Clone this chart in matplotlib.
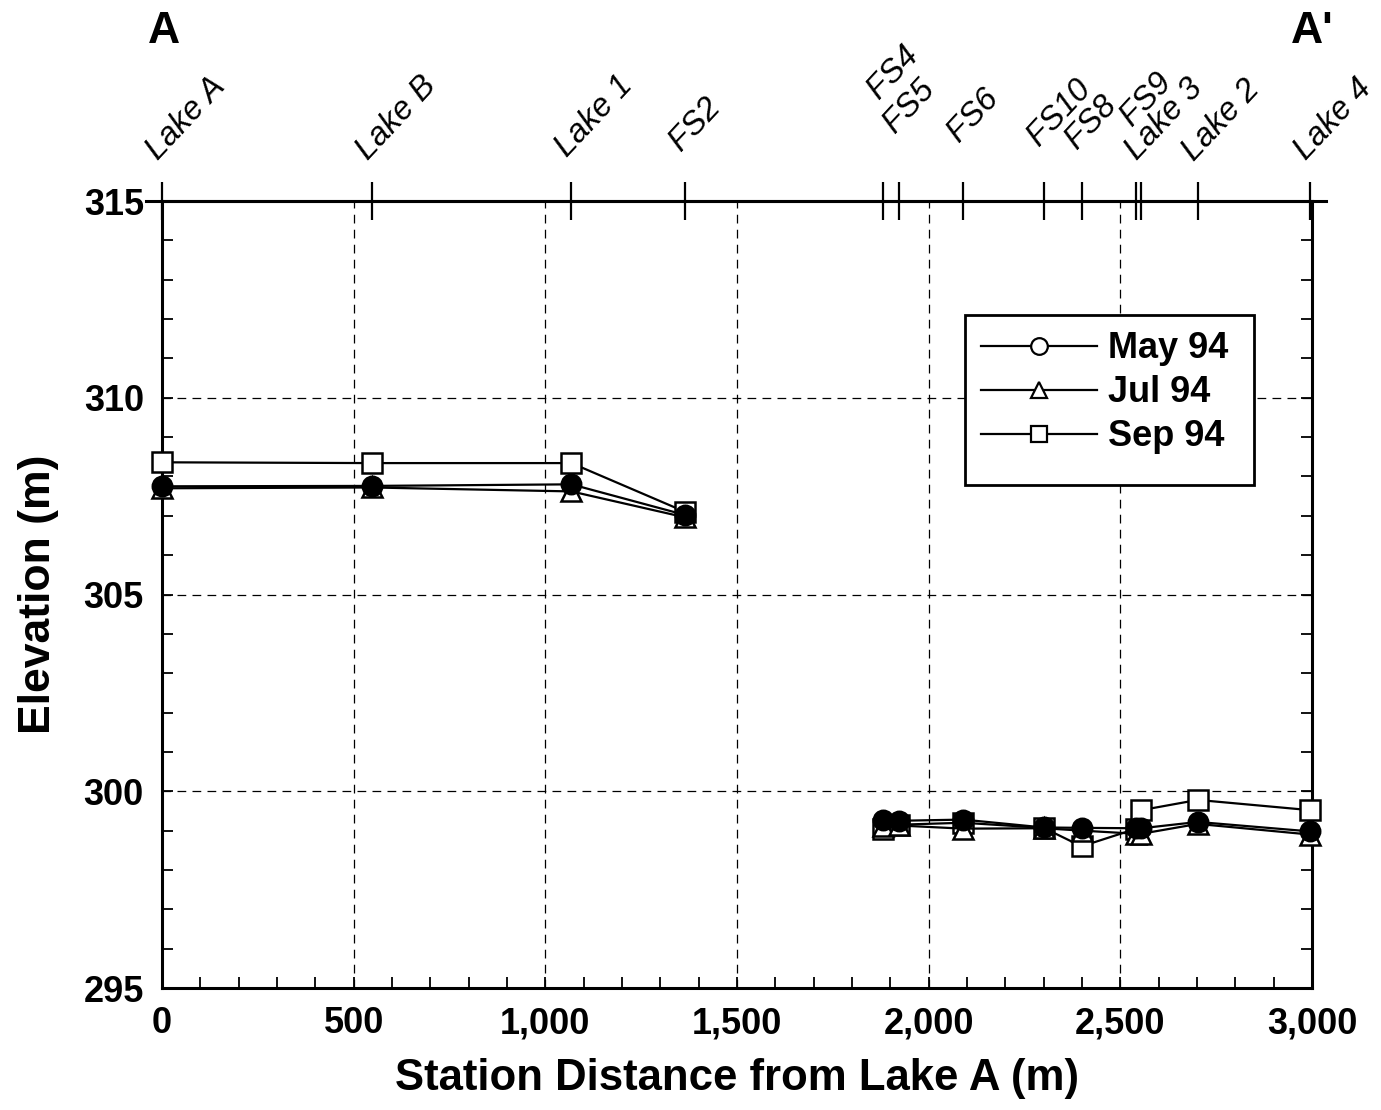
import numpy as np
import matplotlib
matplotlib.use("Agg")
import matplotlib.pyplot as plt
from matplotlib.lines import Line2D
from matplotlib.patches import Rectangle

plt.rcParams['font.family'] = ['Liberation Sans', 'DejaVu Sans']

# stations along the section (distance from Lake A, m)
stations = ["Lake A", "Lake B", "Lake 1", "FS2", "FS4", "FS5", "FS6",
            "FS10", "FS8", "FS9", "Lake 3", "Lake 2", "Lake 4"]
distance = [0, 548, 1068, 1365, 1882, 1923, 2090, 2300, 2399, 2542, 2555, 2702, 2995]
# how high each station name sits above the top axis (points)
label_raise = [29, 29, 31, 35, 73, 48, 42, 39, 37, 53, 29, 28, 29]

# water surface elevations (m); reach 0 = upper lakes, reach 1 = lower lakes
may94 = [307.75, 307.76, 307.80, 307.02, 299.27, 299.25, 299.28, 299.08, 299.07, 299.06, 299.06, 299.22, 298.98]
jul94 = [307.70, 307.72, 307.62, 306.96, 299.12, 299.13, 299.05, 299.06, 299.00, 298.92, 298.92, 299.17, 298.90]
sep94 = [308.36, 308.34, 308.34, 307.10, 299.05, 299.15, 299.20, 299.07, 298.60, 299.05, 299.52, 299.78, 299.52]

reach = [0, 0, 0, 0, 1, 1, 1, 1, 1, 1, 1, 1, 1]

fig = plt.figure(figsize=(13.81, 11.10), dpi=100)
ax = fig.add_axes([0.1173, 0.1099, 0.8327, 0.7090])

dist = np.array(distance)
rch = np.array(reach)
series = [(sep94, 's', 'white'),
          (jul94, '^', 'white'),
          (may94, 'o', 'black')]
for vals, mk, fc in series:
    v = np.array(vals)
    for r in (0, 1):
        m = rch == r
        ax.plot(dist[m], v[m], color='black', lw=1.6, marker=mk, ms=14,
                mfc=fc, mec='black', mew=1.8, zorder=3, clip_on=False)

ax.set_xlim(0, 3000)
ax.set_ylim(295, 315)
ax.set_xticks([0, 500, 1000, 1500, 2000, 2500, 3000])
ax.set_xticklabels(["0", "500", "1,000", "1,500", "2,000", "2,500", "3,000"])
ax.set_yticks([295, 300, 305, 310, 315])
ax.set_xticks(np.arange(0, 3001, 100), minor=True)
ax.set_yticks(np.arange(295, 316, 1), minor=True)
ax.grid(True, which='major', color='black', linestyle=(0, (7, 5)), linewidth=0.9)
ax.tick_params(which='both', direction='in', top=True, right=True, width=1.3)
ax.tick_params(which='major', length=8, labelsize=26, pad=13)
ax.tick_params(which='minor', length=8)
for t in ax.get_xticklabels() + ax.get_yticklabels():
    t.set_fontweight('bold')
for s in ax.spines.values():
    s.set_linewidth(2.2)

ax.set_xlabel("Station Distance from Lake A (m)", fontsize=31.5, fontweight='bold', labelpad=12)
ax.set_ylabel("Elevation (m)", fontsize=32, fontweight='bold', labelpad=18)

# station ticks and names on top
top = ax.twiny()
top.set_xlim(ax.get_xlim())
top.set_xticks(distance)
top.set_xticklabels([])
top.tick_params(axis='x', direction='inout', length=27, width=1.6)
for s in top.spines.values():
    s.set_visible(False)
for name, x, r in zip(stations, distance, label_raise):
    top.annotate(name, xy=(x, 1), xycoords=('data', 'axes fraction'),
                 xytext=(-3, r), textcoords='offset points', rotation=47,
                 rotation_mode='anchor', ha='left', va='baseline',
                 fontsize=23.5, style='italic')
ax.plot([-0.014, 1.012], [1, 1], transform=ax.transAxes, color='black',
        lw=2.2, clip_on=False, zorder=5)

fig.text(0.119, 0.972, "A", fontsize=32, fontweight='bold', ha='center', va='center')
fig.text(0.950, 0.972, "A'", fontsize=32, fontweight='bold', ha='center', va='center')

# legend
handles = [Line2D([], [], color='black', lw=1.6, marker='o', ms=12, mfc='white', mew=1.6),
           Line2D([], [], color='black', lw=1.6, marker='^', ms=12, mfc='white', mew=1.6),
           Line2D([], [], color='black', lw=1.6, marker='s', ms=12, mfc='white', mew=1.6)]
leg = ax.legend(handles, ["May 94", "Jul 94", "Sep 94"], loc='upper left',
                bbox_to_anchor=(0.700, 0.853), frameon=False, handlelength=3.2,
                handletextpad=0.3, labelspacing=0.25, borderaxespad=0,
                prop={'weight': 'bold', 'size': 26})
ax.add_patch(Rectangle((0.698, 0.639), 0.252, 0.216, transform=ax.transAxes,
                       fill=True, facecolor='white', edgecolor='black', lw=2.0, zorder=4))
leg.set_zorder(6)

fig.savefig("out.png", dpi=100)
